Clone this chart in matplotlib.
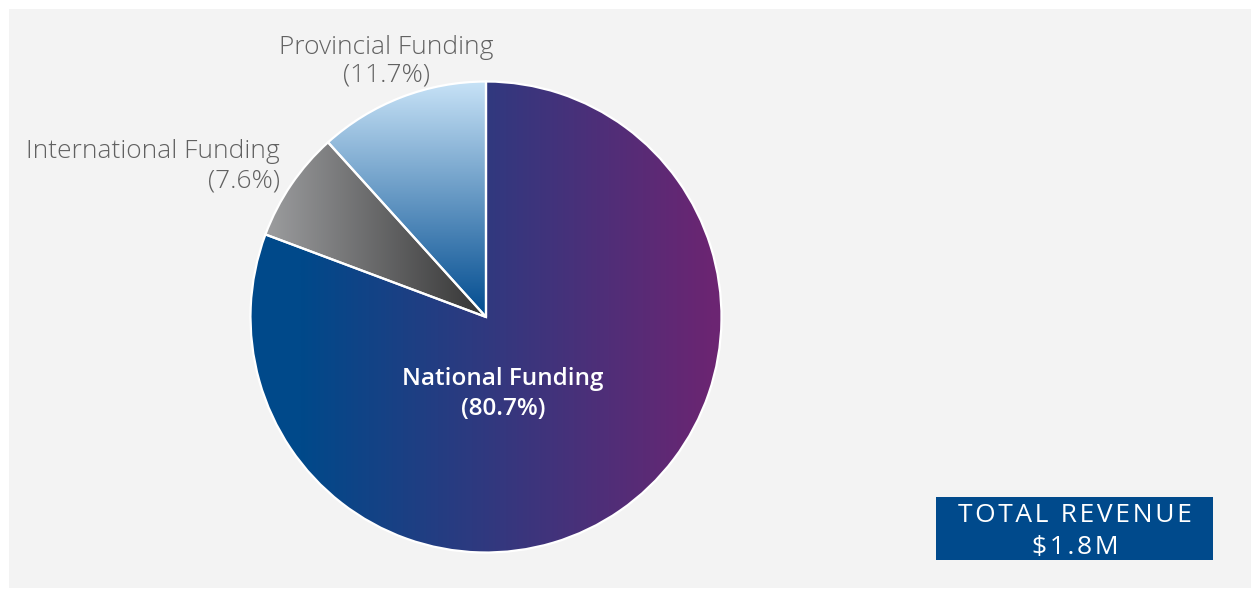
import numpy as np
import matplotlib
matplotlib.use("Agg")
import matplotlib.pyplot as plt
from matplotlib.colors import LinearSegmentedColormap
from matplotlib.patches import Rectangle

# revenue split, drawn counter-clockwise from 12 o'clock
labels = ["Provincial Funding", "International Funding", "National Funding"]
shares = [11.7, 7.6, 80.7]
total_revenue = "$1.8M"

W, H = 1251, 589
CX, CY, R = 486, 589 - 317, 235.5

fig = plt.figure(figsize=(W / 100, H / 100), dpi=100)
fig.patch.set_facecolor("white")
ax = fig.add_axes([0, 0, 1, 1])
ax.set_xlim(0, W)
ax.set_ylim(0, H)
ax.axis("off")

# light grey panel
ax.add_patch(Rectangle((9, 1), W - 9, H - 10, facecolor="#f3f3f3", edgecolor="none", zorder=0))

wedges, _ = ax.pie(shares, startangle=90, counterclock=True, center=(CX, CY), radius=R,
                   wedgeprops=dict(edgecolor="white", linewidth=1.6),
                   frame=False)
ax.set_xlim(0, W)
ax.set_ylim(0, H)
ax.set_aspect("auto")


def gradient_fill(wedge, c0, c1, x0, x1, y0, y1, vertical=False, z=2):
    cmap = LinearSegmentedColormap.from_list("g", [c0, c1])
    n = 256
    if vertical:
        g = np.linspace(0, 1, n).reshape(-1, 1)
    else:
        g = np.linspace(0, 1, n).reshape(1, -1)
    img = ax.imshow(g, cmap=cmap, extent=(x0, x1, y0, y1), origin="upper",
                    aspect="auto", zorder=z, interpolation="bilinear")
    img.set_clip_path(wedge)
    wedge.set_facecolor("none")
    wedge.set_zorder(z + 1)


prov, intl, nat = wedges
# national: blue -> purple left to right
ax.add_patch(Rectangle((CX - R - 2, CY - R - 2), 300 - (CX - R) + 2, 2 * R + 4,
                       facecolor="#00498a", edgecolor="none", zorder=1, clip_path=nat))
gradient_fill(nat, "#00498a", "#6b2572", 300, 712, CY - R - 2, CY + R + 2)
ax.add_patch(Rectangle((712, CY - R - 2), 20, 2 * R + 4,
                       facecolor="#6b2572", edgecolor="none", zorder=2, clip_path=nat))
# international: light grey -> charcoal
gradient_fill(intl, "#a3a4a6", "#343434", CX - R, CX, CY, CY + 175)
# provincial: pale blue at top -> deep blue at centre
gradient_fill(prov, "#c8e3f7", "#004b8f", 320, CX + 2, CY - 1, CY + R + 1, vertical=True)

FONT = "Open Sans"
light = dict(family=FONT, weight="light", color="#616161", fontsize=19)
ax.text(386, H - 47, labels[0], ha="center", va="center", **light)
ax.text(386, H - 75, f"({shares[0]}%)", ha="center", va="center", **light)
ax.text(280, H - 152, labels[1], ha="right", va="center", **light)
ax.text(280, H - 181, f"({shares[1]}%)", ha="right", va="center", **light)

ax.text(503, H - 379, labels[2], ha="center", va="center", color="white",
        family=FONT, weight="semibold", fontsize=17.5, zorder=5)
ax.text(503, H - 409, f"({shares[2]}%)", ha="center", va="center", color="white",
        family=FONT, weight="semibold", fontsize=17.5, zorder=5)


def spaced(s):
    return "\u200a".join(s)


# total revenue badge
ax.add_patch(Rectangle((936, H - 560), 277, 63, facecolor="#004a8c", edgecolor="none", zorder=3))
ax.text(1075, H - 515, spaced("TOTAL REVENUE"), ha="center", va="center",
        color="white", family=FONT, weight="normal", fontsize=19, zorder=4)
ax.text(1075, H - 547, spaced(total_revenue), ha="center", va="center", color="white",
        family=FONT, weight="normal", fontsize=19, zorder=4)

fig.savefig("out.png", dpi=100, facecolor=fig.get_facecolor())
